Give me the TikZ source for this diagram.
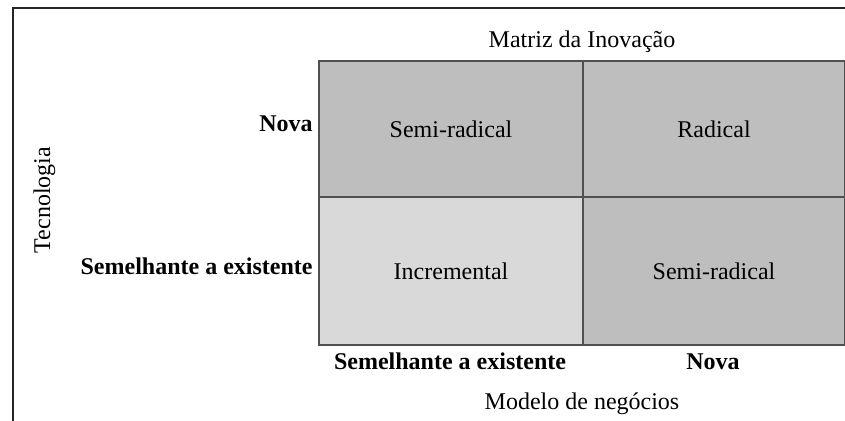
\documentclass[tikz,border=0pt]{standalone}
\usepackage{fontspec}
\setmainfont{Liberation Serif}
\usetikzlibrary{positioning}

\definecolor{celldark}{HTML}{BEBEBE}
\definecolor{celllight}{HTML}{D9D9D9}
\definecolor{gridline}{HTML}{505050}

\begin{document}
\begin{tikzpicture}[x=0.5pt, y=-0.5pt,
    font=\fontsize{12}{14}\selectfont,
    cell/.style={draw=gridline, line width=1pt, anchor=north west, inner sep=0pt,
                 minimum width=132pt},
    axislabel/.style={inner sep=0pt}]
    \useasboundingbox (0,0) rectangle (845,421);

    % Frame (cut off at right and bottom)
    \draw[line width=1pt, black!85] (12.5,421) -- (12.5,8.5) -- (845,8.5);

    % Matrix cells
    \node[cell, fill=celldark, minimum height=68pt] (semitop) at (318,60) {Semi-radical};
    \node[cell, fill=celldark, minimum height=68pt, minimum width=131pt] (radical) at (582,60) {Radical};
    \node[cell, fill=celllight, minimum height=74pt] (incremental) at (318,196) {Incremental};
    \node[cell, fill=celldark, minimum height=74pt, minimum width=131pt] (semibottom) at (582,196) {Semi-radical};

    % Title
    \node[axislabel, anchor=base] (title) at (582,48) {Matriz da Inovação};

    % Vertical axis - Tecnologia
    \node[axislabel, anchor=base east] (novaleft) at (313,132) {\textbf{Nova}};
    \node[axislabel, anchor=base east] (semleft) at (313,275) {\textbf{Semelhante a existente}};
    \node[axislabel, anchor=base, rotate=90] (tecnologia) at (50,200) {Tecnologia};

    % Horizontal axis - Modelo de negocios
    \node[axislabel, anchor=base] (sembottom) at (450,370) {\textbf{Semelhante a existente}};
    \node[axislabel, anchor=base] (novabottom) at (713,370) {\textbf{Nova}};
    \node[axislabel, anchor=base] (modelo) at (582,410) {Modelo de negócios};

\end{tikzpicture}
\end{document}
